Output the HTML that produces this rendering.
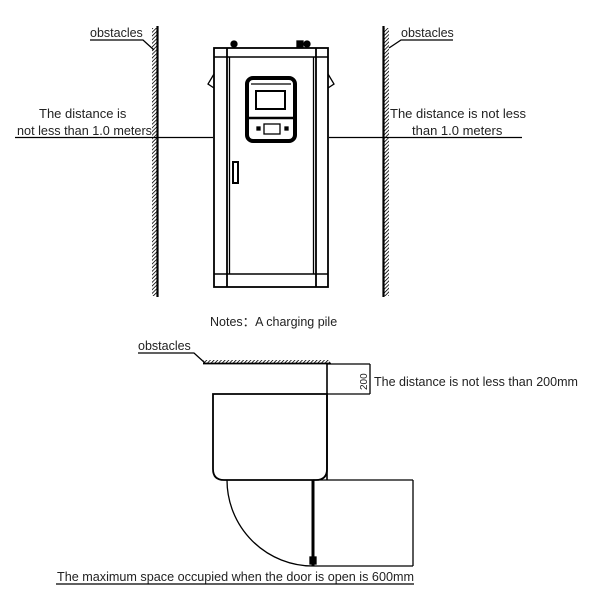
<!DOCTYPE html>
<html><head><meta charset="utf-8"><style>
html,body{margin:0;padding:0;background:#fff;}
svg{display:block;}
text{font-family:"Liberation Sans","Noto Sans CJK SC",sans-serif;fill:#222;}
</style></head><body>
<svg width="605" height="596" viewBox="0 0 605 596" xmlns="http://www.w3.org/2000/svg">
<defs>
<pattern id="hl" width="2.6" height="2.6" patternUnits="userSpaceOnUse" patternTransform="rotate(45)">
<line x1="0" y1="0" x2="0" y2="2.6" stroke="#000" stroke-width="1.6"/></pattern>
</defs>
<g stroke="#000" fill="none" stroke-width="1.3">
<rect x="152" y="28" width="5" height="268" fill="url(#hl)" stroke="none"/>
<line x1="157.5" y1="26" x2="157.5" y2="297" stroke-width="2.2"/>
<rect x="384" y="28" width="5" height="268" fill="url(#hl)" stroke="none"/>
<line x1="383.5" y1="26" x2="383.5" y2="297" stroke-width="2.2"/>
<polyline points="90,40 143,40 154,50"/>
<polyline points="453,40 401,40 389,48"/>
<line x1="15" y1="137.5" x2="213" y2="137.5"/>
<line x1="329" y1="137.5" x2="522" y2="137.5"/>
<rect x="214" y="48" width="114" height="239" stroke-width="1.8"/>
<line x1="214" y1="57" x2="328" y2="57" stroke-width="1.6"/>
<line x1="214" y1="274" x2="328" y2="274" stroke-width="1.6"/>
<line x1="227" y1="48" x2="227" y2="287" stroke-width="1.8"/>
<line x1="316" y1="48" x2="316" y2="287" stroke-width="1.8"/>
<line x1="229.5" y1="57" x2="229.5" y2="274"/>
<line x1="313.5" y1="57" x2="313.5" y2="274"/>
<polyline points="214,74 208,84 214,88"/>
<polyline points="328,74 334,84 328,88"/>
<circle cx="234" cy="44" r="3" fill="#000"/>
<circle cx="307" cy="44" r="3" fill="#000"/>
<rect x="297" y="41" width="6" height="6" fill="#000"/>
<rect x="247" y="78" width="48" height="63" rx="6" stroke-width="4"/>
<line x1="251" y1="84" x2="291" y2="84"/>
<rect x="256" y="91" width="29" height="18" stroke-width="2"/>
<line x1="249" y1="118" x2="293" y2="118" stroke-width="2.5"/>
<rect x="264" y="124" width="16" height="10"/>
<rect x="257" y="127" width="3" height="3" fill="#000"/>
<rect x="285" y="127" width="3" height="3" fill="#000"/>
<rect x="233" y="162" width="5" height="21" stroke-width="2"/>
<polyline points="138,353 194,353 205,363"/>
<rect x="203" y="360" width="127" height="3" fill="url(#hl)" stroke="none"/>
<line x1="203" y1="363.5" x2="331" y2="363.5" stroke-width="1.8"/>
<line x1="327" y1="363" x2="327" y2="480" stroke-width="1.6"/>
<line x1="327" y1="364" x2="370" y2="364"/>
<line x1="327" y1="394" x2="370" y2="394"/>
<line x1="370" y1="364" x2="370" y2="394"/>
<path d="M213 394 L327 394 L327 469 Q327 480 316 480 L224 480 Q213 480 213 469 Z" stroke-width="1.8"/>
<line x1="313" y1="480" x2="413" y2="480"/>
<line x1="413" y1="480" x2="413" y2="566"/>
<line x1="313" y1="566" x2="413" y2="566"/>
<line x1="313" y1="480" x2="313" y2="566" stroke-width="3"/>
<rect x="310" y="557" width="6" height="7" fill="#000"/>
<path d="M227 480 A86 86 0 0 0 313 566"/>
<line x1="56" y1="584" x2="414" y2="584"/>
</g>
<text x="90" y="37" font-size="12.5">obstacles</text>
<text x="401" y="37" font-size="12.5">obstacles</text>
<text x="39" y="118" font-size="13">The distance is</text>
<text x="17" y="135" font-size="13" textLength="135" lengthAdjust="spacingAndGlyphs">not less than 1.0 meters</text>
<text x="390" y="118" font-size="13" textLength="136" lengthAdjust="spacingAndGlyphs">The distance is not less</text>
<text x="412" y="135" font-size="13">than 1.0 meters</text>
<text x="210" y="326" font-size="12.5">Notes：A charging pile</text>
<text x="138" y="350" font-size="12.5">obstacles</text>
<text transform="translate(367,390) rotate(-90)" font-size="10" font-family="Liberation Serif">200</text>
<text x="374" y="386" font-size="13" textLength="204" lengthAdjust="spacingAndGlyphs">The distance is not less than 200mm</text>
<text x="57" y="581" font-size="13" textLength="357" lengthAdjust="spacingAndGlyphs">The maximum space occupied when the door is open is 600mm</text>
</svg>
</body></html>
